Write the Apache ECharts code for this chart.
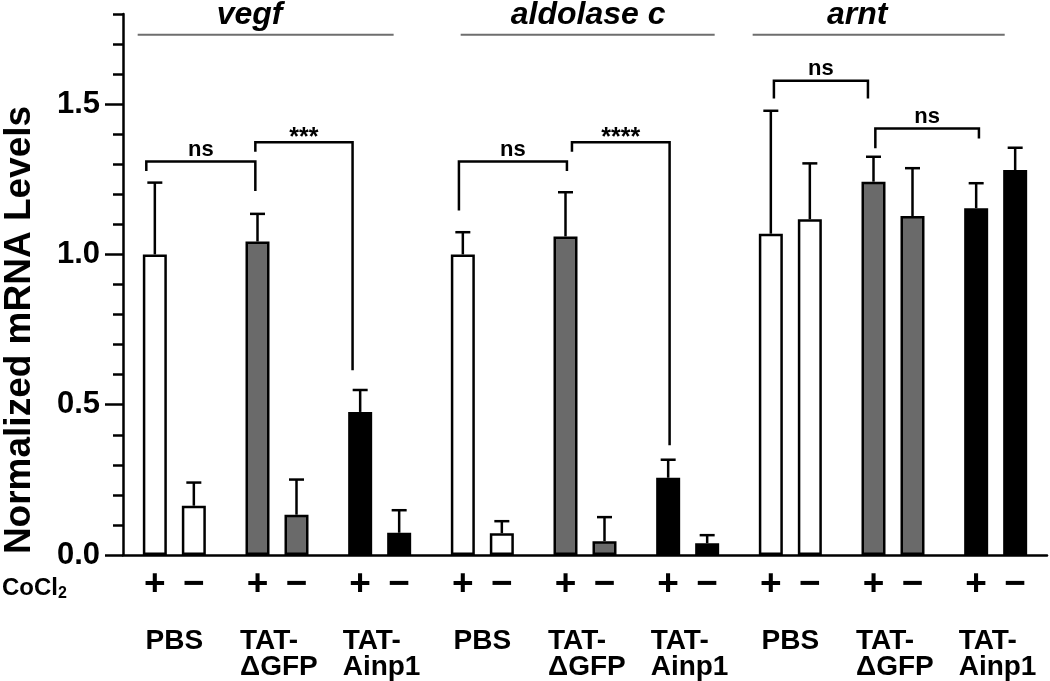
<!DOCTYPE html>
<html><head><meta charset="utf-8">
<script src="https://cdn.jsdelivr.net/npm/echarts@6/dist/echarts.min.js"></script>
<style>html,body{margin:0;padding:0;background:#fff}#c{width:1050px;height:681px}</style>
</head><body><div id="c"></div>
<script>
// ---------- data ----------
const genes = ['vegf', 'aldolase c', 'arnt'];
const treatments = ['PBS', 'TAT-ΔGFP', 'TAT-Ainp1'];
const categories = ['PBS', 'TAT-\nΔGFP', 'TAT-\nAinp1', 'PBS', 'TAT-\nΔGFP', 'TAT-\nAinp1', 'PBS', 'TAT-\nΔGFP', 'TAT-\nAinp1'];
// CoCl2 (+)
const plusValues  = [1.00, 1.043, 0.476, 1.00, 1.06, 0.257, 1.069, 1.242, 1.154];
const plusErrors  = [0.239, 0.092, 0.073, 0.074, 0.147, 0.060, 0.409, 0.083, 0.083];
// CoCl2 (-)
const minusValues = [0.164, 0.134, 0.074, 0.0725, 0.046, 0.039, 1.117, 1.128, 1.281];
const minusErrors = [0.077, 0.117, 0.075, 0.040, 0.080, 0.027, 0.186, 0.159, 0.074];
const conditionLabels = ['+', '\u2212'];
const yTickValues = [0, 0.5, 1.0, 1.5];
const yTickLabels = ['0.0', '0.5', '1.0', '1.5'];
const yMinorTicks = [0,0.1,0.2,0.3,0.4,0.5,0.6,0.7,0.8,0.9,1.0,1.1,1.2,1.3,1.4,1.5,1.6,1.7,1.8];
// significance comparisons: [from, to (category units), top, left end, right end]
const comparisons = [
  [0.227, 1.289, 1.309, 1.278, 1.211],
  [1.289, 2.236, 1.373, 1.342, 0.615],
  [3.272, 4.324, 1.309, 1.146, 1.278],
  [4.373, 5.324, 1.373, 1.342, 0.365],
  [6.340, 7.256, 1.578, 1.519, 1.519],
  [7.328, 8.337, 1.419, 1.353, 1.386]
];
const comparisonLabels = ['ns', '***', 'ns', '****', 'ns', 'ns'];
// gene headers: [text centre, line start, line end] in category units
const geneHeaders = [
  [1.233, 0.143, 2.636],
  [4.531, 3.289, 5.763],
  [7.151, 6.133, 8.588]
];

// ---------- style ----------
const FONT = 'Liberation Sans, Arial, Helvetica, sans-serif';
const fills = {'PBS': '#ffffff', 'TAT-ΔGFP': '#6a6a6a', 'TAT-Ainp1': '#000000'};
const BAR_W = 24, BAR_GAP_PX = 15;
const LW = 2.5;

function barData(vals) {
  return vals.map((v, i) => ({value: v, itemStyle: {color: fills[treatments[i % 3]]}}));
}
function errSeries(vals, errs, sign) {
  return {
    type: 'custom', xAxisIndex: 0, yAxisIndex: 0, z: 5,
    data: vals.map((v, i) => [i, v, errs[i]]),
    encode: {x: 0, y: 1},
    renderItem: function (params, api) {
      const i = api.value(0), v = api.value(1), e = api.value(2);
      const base = api.coord([i, v]);
      const top = api.coord([i, v + e]);
      const x = base[0] + sign * (BAR_W + BAR_GAP_PX) / 2;
      return {type: 'group', children: [
        {type: 'line', shape: {x1: x, y1: base[1], x2: x, y2: top[1]}, style: {stroke: '#000', lineWidth: LW}},
        {type: 'line', shape: {x1: x - 7.5, y1: top[1], x2: x + 7.5, y2: top[1]}, style: {stroke: '#000', lineWidth: LW}}
      ]};
    }
  };
}
function barSeries(vals, sym) {
  return {
    type: 'bar', xAxisIndex: 0, yAxisIndex: 0,
    barWidth: BAR_W, barGap: (BAR_GAP_PX / BAR_W * 100) + '%',
    data: barData(vals),
    itemStyle: {borderColor: '#000', borderWidth: LW},
    label: {show: true, position: 'bottom', distance: 11, formatter: sym,
            fontSize: 37, fontWeight: 'bold', color: '#000', fontFamily: FONT},
    z: 2
  };
}

const chart = echarts.init(document.getElementById('c'), null, {renderer: 'canvas'});
chart.setOption({
  animation: false,
  backgroundColor: '#fff',
  grid: {left: 123, right: 3, top: 14, bottom: 125, containLabel: false},
  xAxis: [{
    type: 'category', data: categories,
    axisLine: {lineStyle: {color: '#000', width: LW}},
    axisTick: {show: false},
    axisLabel: {
      margin: 73, interval: 0, color: '#000',
      formatter: function (v) {
        const parts = v.split('\n');
        if (parts.length === 1) return '{c|' + v + '}';
        return parts.map(p => '{l|' + p + '}').join('\n');
      },
      rich: {
        c: {fontSize: 28, fontWeight: 'bold', fontFamily: FONT, lineHeight: 26, color: '#000'},
        l: {fontSize: 28, fontWeight: 'bold', fontFamily: FONT, lineHeight: 26, color: '#000', width: 74, align: 'left'}
      }
    }
  }, {
    type: 'value', min: 0, max: 9, show: false
  }],
  yAxis: [{
    type: 'value', min: 0, max: 1.8, interval: 0.1,
    axisLine: {show: true, lineStyle: {color: '#000', width: LW}},
    axisTick: {show: true, length: 10, lineStyle: {color: '#000', width: LW}, customValues: yMinorTicks},
    axisLabel: {show: false},
    splitLine: {show: false}
  }, {
    type: 'value', min: 0, max: 1.8, position: 'left', offset: 0,
    axisLine: {show: false},
    axisTick: {show: true, length: 18, lineStyle: {color: '#000', width: LW}, customValues: yTickValues},
    axisLabel: {
      show: true, margin: 23, customValues: yTickValues,
      formatter: function (v) { return yTickLabels[yTickValues.indexOf(v)] || ''; },
      fontSize: 31, fontWeight: 'bold', color: '#000', fontFamily: FONT
    },
    splitLine: {show: false}
  }],
  series: [
    barSeries(plusValues, conditionLabels[0]),
    barSeries(minusValues, conditionLabels[1]),
    errSeries(plusValues, plusErrors, -1),
    errSeries(minusValues, minusErrors, 1),
    {
      type: 'custom', xAxisIndex: 1, yAxisIndex: 0, z: 6,
      data: comparisons.map(c => [c[0], c[1], c[2], c[3], c[4]]),
      encode: {x: [0, 1], y: [2, 3, 4]},
      renderItem: function (params, api) {
        const c = comparisons[params.dataIndex];
        const lbl = comparisonLabels[params.dataIndex];
        const pL = api.coord([c[0], c[2]]), pR = api.coord([c[1], c[2]]);
        const lb = api.coord([c[0], c[3]]), rb = api.coord([c[1], c[4]]);
        const star = lbl.indexOf('*') >= 0;
        return {type: 'group', children: [
          {type: 'polyline', shape: {points: [[pL[0], lb[1]], [pL[0], pL[1]], [pR[0], pR[1]], [pR[0], rb[1]]]},
           style: {stroke: '#000', lineWidth: LW, fill: null}},
          {type: 'text', style: {
            text: lbl, x: (pL[0] + pR[0]) / 2, y: pL[1] - (star ? 4 : 12),
            textAlign: 'center', textVerticalAlign: 'middle', fill: '#000',
            font: 'bold ' + (star ? 25 : 22) + 'px ' + FONT}}
        ]};
      }
    },
    {
      type: 'custom', xAxisIndex: 1, yAxisIndex: 0, z: 6,
      data: geneHeaders.map(h => [h[0], h[1], h[2]]),
      encode: {x: [0, 1, 2]},
      renderItem: function (params, api) {
        const h = geneHeaders[params.dataIndex];
        const t = api.coord([h[0], 1.795]);
        const a = api.coord([h[1], 1.731]);
        const b = api.coord([h[2], 1.731]);
        return {type: 'group', children: [
          {type: 'line', shape: {x1: a[0], y1: a[1], x2: b[0], y2: b[1]}, style: {stroke: '#6e6e6e', lineWidth: 2}},
          {type: 'text', style: {text: genes[params.dataIndex], x: t[0], y: t[1],
            textAlign: 'center', textVerticalAlign: 'middle', fill: '#000',
            font: 'italic bold 32px ' + FONT}}
        ]};
      }
    }
  ],
  graphic: [
    {type: 'text', x: 20, y: 330, rotation: Math.PI / 2,
     style: {text: 'Normalized mRNA Levels', font: 'bold 37px ' + FONT, fill: '#000',
             textAlign: 'center', textVerticalAlign: 'middle'}},
    {type: 'text', x: 2, y: 588,
     style: {text: '{a|CoCl}{s|2}', textVerticalAlign: 'middle', fill: '#000',
             rich: {a: {fontSize: 24, fontWeight: 'bold', fontFamily: FONT, lineHeight: 28, verticalAlign: 'middle'},
                    s: {fontSize: 16, fontWeight: 'bold', fontFamily: FONT, lineHeight: 16, verticalAlign: 'bottom'}}}}
  ]
});
</script></body></html>
